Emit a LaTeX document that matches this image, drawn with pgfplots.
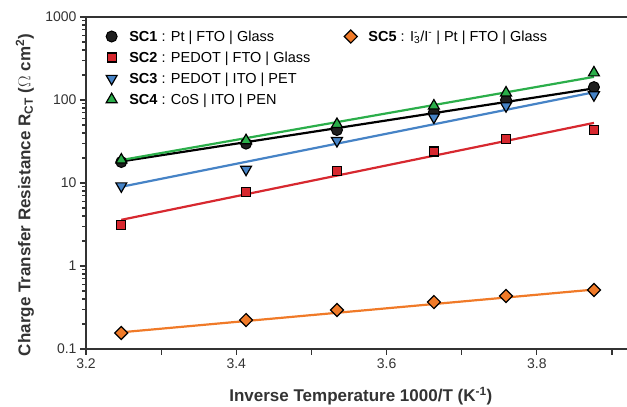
\documentclass[border=0pt]{standalone}
\usepackage{fontspec}
\setmainfont{Liberation Sans}
\usepackage{pgfplots}
\pgfplotsset{compat=1.18}
\definecolor{scred}{HTML}{D7282F}
\definecolor{scblue}{HTML}{4683C6}
\definecolor{scgreen}{HTML}{2BAE4A}
\definecolor{scorange}{HTML}{F07A28}
\definecolor{axgray}{HTML}{333333}

\begin{document}
\begin{tikzpicture}
\path[use as bounding box] (-86pt,-58pt) rectangle (541pt,349pt);
\begin{axis}[
  at={(0pt,0pt)}, anchor=south west,
  scale only axis, width=541pt, height=332pt,
  ymode=log,
  xmin=3.2, xmax=3.92, ymin=0.1, ymax=1000,
  axis x line=box, axis y line=left,
  axis line style={-, line width=1.5pt, draw=axgray},
  xtick pos=bottom,
  tick align=outside,
  xtick={3.2,3.3,3.4,3.5,3.6,3.7,3.8,3.9},
  xticklabels={3.2,,3.4,,3.6,,3.8,},
  ytick={0.1,1,10,100,1000},
  yticklabels={0.1,1,10,100,1000},
  major tick length=6pt, minor tick length=3.5pt,
  every tick/.style={line width=1.2pt, axgray},
  tick label style={font=\fontsize{14}{16}\selectfont, text=axgray},
  xlabel={Inverse Temperature 1000/T (K\textsuperscript{-1})},
  ylabel={Charge Transfer Resistance R\textsubscript{CT} ($\Omega$ cm\textsuperscript{2})},
  label style={font=\bfseries\fontsize{17}{20}\selectfont, text=axgray},
  xlabel style={at={(axis description cs:0.508,-0.158)}, anchor=base},
  ylabel style={at={(axis description cs:-0.113,0.464)}, anchor=center},
  legend columns=2,
  legend cell align=left,
  legend image code/.code={%
    \path[draw=none, fill=none] (-0.2cm,0cm) -- (0.55cm,0cm);
    \draw[#1, only marks] plot coordinates {(0cm,0cm)};},
  legend style={draw=none, fill=none, at={(0.031,0.972)}, anchor=north west,
    font=\fontsize{14.5}{16}\selectfont, row sep=5pt,
    /tikz/column 2/.style={column sep=32pt}},
]
% fitted lines
\addplot[forget plot, black, line width=2.2pt] coordinates {(3.247,18.2) (3.876,138)};
\addplot[forget plot, scred, line width=2.2pt] coordinates {(3.247,3.6) (3.876,53)};
\addplot[forget plot, scblue, line width=2.2pt] coordinates {(3.247,9.0) (3.876,124)};
\addplot[forget plot, scgreen, line width=2.2pt] coordinates {(3.247,18.9) (3.876,190)};
\addplot[forget plot, scorange, line width=2.2pt] coordinates {(3.247,0.159) (3.876,0.52)};

% measured points
\addplot[only marks, mark=*, mark size=5.5pt, mark options={fill=black!88, draw=black, line width=1pt}] coordinates {
  (3.247,17.9) (3.413,29.8) (3.534,43.5) (3.663,71) (3.759,100) (3.876,143)
};
\addlegendentry{\textbf{SC1} : Pt | FTO | Glass}
\addplot[only marks, mark=square*, mark size=4.6pt, mark options={rotate=45, fill=scorange, draw=black, line width=1.2pt}] coordinates {
  (3.247,0.156) (3.413,0.223) (3.534,0.295) (3.663,0.368) (3.759,0.435) (3.876,0.514)
};
\addlegendentry{\textbf{SC5} : I\rlap{\textsuperscript{-}}\textsubscript{3}/I\textsuperscript{-} | Pt | FTO | Glass}
\addplot[only marks, mark=square*, mark size=4.5pt, mark options={fill=scred, draw=black, line width=1.2pt}] coordinates {
  (3.247,3.1) (3.413,7.8) (3.534,14.0) (3.663,24) (3.759,33.7) (3.876,43.5)
};
\addlegendentry{\textbf{SC2} : PEDOT | FTO | Glass}
\addlegendimage{empty legend}\addlegendentry{}
\addplot[only marks, mark=triangle*, mark size=6.3pt, mark options={rotate=180, fill=scblue, draw=black, line width=1.2pt}] coordinates {
  (3.247,9.2) (3.413,14.6) (3.534,32.3) (3.663,62) (3.759,85) (3.876,115)
};
\addlegendentry{\textbf{SC3} : PEDOT | ITO | PET}
\addlegendimage{empty legend}\addlegendentry{}
\addplot[only marks, mark=triangle*, mark size=6.3pt, mark options={fill=scgreen, draw=black, line width=1.2pt}] coordinates {
  (3.247,19) (3.413,32.5) (3.534,51) (3.663,85) (3.759,122) (3.876,213)
};
\addlegendentry{\textbf{SC4} : CoS | ITO | PEN}
\addlegendimage{empty legend}\addlegendentry{}
\end{axis}
\end{tikzpicture}
\end{document}
